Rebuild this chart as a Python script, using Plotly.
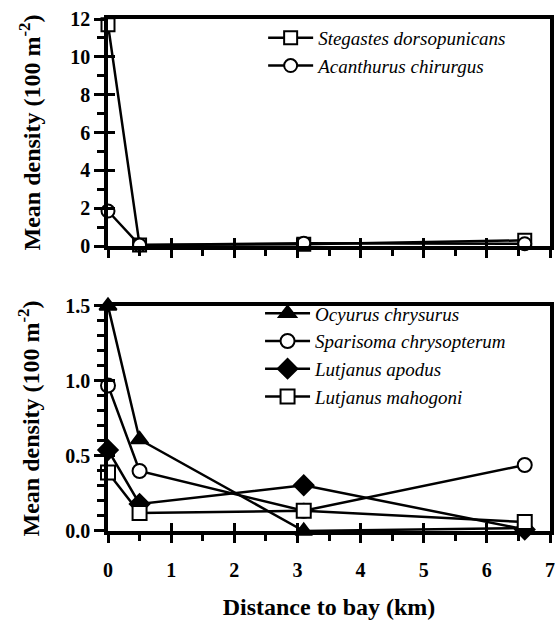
import plotly.graph_objects as go

# Distance of each site from the bay (km)
distance_km = [0, 0.5, 3.1, 6.6]

# Upper panel: mean density (fish per 100 m^2)
stegastes_dorsopunicans = [11.7, 0.05, 0.10, 0.30]
acanthurus_chirurgus = [1.85, 0.05, 0.15, 0.12]

# Lower panel: mean density (fish per 100 m^2)
ocyurus_chrysurus = [1.50, 0.61, 0.00, 0.02]
sparisoma_chrysopterum = [0.97, 0.40, 0.135, 0.44]
lutjanus_apodus = [0.54, 0.18, 0.305, 0.01]
lutjanus_mahogoni = [0.39, 0.12, 0.135, 0.06]

x_ticks = [0, 1, 2, 3, 4, 5, 6, 7]
top_y_ticks = [0, 2, 4, 6, 8, 10, 12]
bottom_y_ticks = [0.0, 0.5, 1.0, 1.5]

FONT = "Liberation Serif"
BLACK = "black"
AXW = 3.5

fig = go.Figure()


def add_series(name, y, symbol, filled, xa, ya, legend, size):
    fig.add_trace(go.Scatter(
        x=distance_km, y=y, name=name, mode="lines+markers",
        xaxis=xa, yaxis=ya, legend=legend, cliponaxis=False,
        line=dict(color=BLACK, width=2.5),
        marker=dict(symbol=symbol, size=size,
                    color=BLACK if filled else "white",
                    line=dict(color=BLACK, width=2)),
    ))


# Each panel is a base subplot (outward ticks) plus an overlay with identical
# ranges (inward major ticks), so the major ticks cross the axis lines.
add_series("Stegastes dorsopunicans", stegastes_dorsopunicans, "square", False, "x", "y", "legend", 13)
add_series("Acanthurus chirurgus", acanthurus_chirurgus, "circle", False, "x3", "y3", "legend", 13)

add_series("Ocyurus chrysurus", ocyurus_chrysurus, "triangle-up", True, "x2", "y2", "legend2", 15)
add_series("Sparisoma chrysopterum", sparisoma_chrysopterum, "circle", False, "x4", "y4", "legend2", 14)
add_series("Lutjanus apodus", lutjanus_apodus, "diamond", True, "x4", "y4", "legend2", 15)
add_series("Lutjanus mahogoni", lutjanus_mahogoni, "square", False, "x4", "y4", "legend2", 14)

tick_font = dict(family=FONT, size=20, color=BLACK, weight="bold")
title_font = dict(family=FONT, size=24, color=BLACK, weight="bold")
leg_font = dict(family=FONT, size=19, color=BLACK, style="italic")

top_dom = [0.5566, 1.0]
bot_dom = [0.0, 0.4395]

x_common = dict(
    range=[0, 7], tickvals=x_ticks, showgrid=False, zeroline=False,
    showline=True, linecolor=BLACK, linewidth=AXW, mirror=True,
    ticks="outside", ticklen=8, tickwidth=3, tickcolor=BLACK,
    minor=dict(dtick=0.5, tick0=0, ticks="outside", ticklen=6, tickwidth=3, tickcolor=BLACK),
    automargin=False, ticklabeloverflow="allow",
)

inner = dict(showticklabels=False, showline=False, showgrid=False, zeroline=False,
             ticks="inside", tickwidth=3, tickcolor=BLACK)

fig.update_layout(
    template="none",
    width=555, height=620,
    margin=dict(l=108, r=5, t=19, b=89),
    paper_bgcolor="white", plot_bgcolor="white",
    font=dict(family=FONT, color=BLACK),
    showlegend=True,
    xaxis=dict(x_common, anchor="y", showticklabels=False),
    yaxis=dict(
        domain=top_dom, anchor="x", range=[0, 12], tickvals=top_y_ticks,
        showgrid=False, zeroline=False, showline=True, linecolor=BLACK,
        linewidth=AXW, mirror=True, ticks="outside", ticklen=10, tickwidth=3,
        tickcolor=BLACK, tickfont=tick_font,
        minor=dict(dtick=1, tick0=0, ticks="outside", ticklen=7, tickwidth=3, tickcolor=BLACK),
        title=dict(text="Mean density (100 m<sup>-2</sup>)", font=title_font, standoff=24),
        automargin=False,
    ),
    xaxis2=dict(
        x_common, anchor="y2", tickfont=tick_font, ticklabelstandoff=10,
        title=dict(text="Distance to bay (km)", font=title_font, standoff=20),
    ),
    yaxis2=dict(
        domain=bot_dom, anchor="x2", range=[0, 1.5], tickvals=bottom_y_ticks,
        tickformat=".1f",
        showgrid=False, zeroline=False, showline=True, linecolor=BLACK,
        linewidth=AXW, mirror=True, ticks="outside", ticklen=10, tickwidth=3,
        tickcolor=BLACK, tickfont=tick_font,
        minor=dict(dtick=0.1, tick0=0, ticks="outside", ticklen=7, tickwidth=3, tickcolor=BLACK),
        title=dict(text="Mean density (100 m<sup>-2</sup>)", font=title_font, standoff=20),
        automargin=False,
    ),
    # inward halves of the major ticks
    xaxis3=dict(inner, overlaying="x", anchor="y3", range=[0, 7], tickvals=x_ticks, ticklen=8),
    yaxis3=dict(inner, overlaying="y", anchor="x3", range=[0, 12], tickvals=top_y_ticks, ticklen=7),
    xaxis4=dict(inner, overlaying="x2", anchor="y4", range=[0, 7], tickvals=x_ticks, ticklen=8),
    yaxis4=dict(inner, overlaying="y2", anchor="x4", range=[0, 1.5], tickvals=bottom_y_ticks, ticklen=7),
    legend=dict(x=0.351, y=1.0, xanchor="left", yanchor="top",
                bgcolor="rgba(0,0,0,0)", font=leg_font, itemwidth=45,
                tracegroupgap=0),
    legend2=dict(x=0.344, y=0.462, xanchor="left", yanchor="top",
                 bgcolor="rgba(0,0,0,0)", font=leg_font, itemwidth=45,
                 tracegroupgap=0),
)

fig.write_html("out.html")
